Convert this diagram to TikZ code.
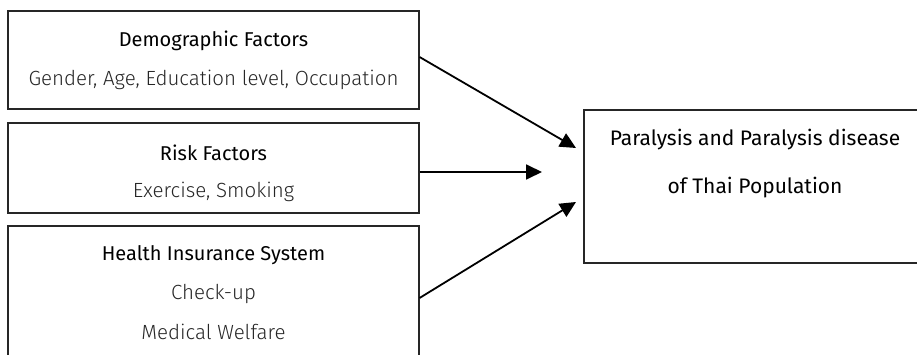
\documentclass[tikz,border=0pt]{standalone}
\usepackage{fontspec}
\setmainfont{Fira Sans}[BoldFont={Fira Sans}, UprightFont={Fira Sans Light}]
\usetikzlibrary{arrows.meta}
\tikzset{
  factorbox/.style={draw=black!85, line width=1.1pt, minimum width=411pt, inner sep=0pt},
  headtext/.style={font=\fontsize{20}{24}\selectfont\bfseries, text=black},
  itemtext/.style={font=\fontsize{20.5}{24}\selectfont, text=black!85},
  outcometext/.style={font=\fontsize{21}{25}\selectfont\bfseries, text=black},
  linkarrow/.style={line width=1.8pt, -{Triangle[length=16pt,width=15pt]}}
}
\begin{document}
\begin{tikzpicture}[x=1pt, y=-1pt]
    \useasboundingbox (0, 0) rectangle (917, 355);
    \clip (0, 0) rectangle (917, 355);

    % Demographic
    \node[factorbox, minimum height=98pt] (demo) at (213.5, 60) {};
    \node[headtext] (demoHead) at (213.5, 41) {Demographic Factors};
    \node[itemtext] (demoItems) at (213.5, 80) {Gender, Age, Education level, Occupation};

    % Risk
    \node[factorbox, minimum height=90pt] (risk) at (213.5, 168) {};
    \node[headtext] (riskHead) at (213.5, 153) {Risk Factors};
    \node[itemtext] (riskItems) at (213.5, 192) {Exercise, Smoking};

    % Health insurance
    \node[factorbox, minimum height=144pt] (health) at (213.5, 298) {};
    \node[headtext] (healthHead) at (213.5, 255) {Health Insurance System};
    \node[itemtext] (healthCheck) at (213.5, 294) {Check-up};
    \node[itemtext] (healthWelfare) at (213.5, 332) {Medical Welfare};

    % Outcome
    \node[factorbox, minimum width=342pt, minimum height=153pt] (outcome) at (755, 186.5) {};
    \node[outcometext] (outcomeTop) at (755, 140) {Paralysis and Paralysis disease};
    \node[outcometext] (outcomeBottom) at (755, 188) {of Thai Population};

    % Connections
    \coordinate (tipDemo) at (576, 148);
    \coordinate (tipRisk) at (542, 172);
    \coordinate (tipHealth) at (576, 202);

    \draw[linkarrow] ([yshift=3pt]demo.east) -- (tipDemo);
    \draw[linkarrow] ([yshift=-4pt]risk.east) -- (tipRisk);
    \draw[linkarrow] (health.east) -- (tipHealth);
\end{tikzpicture}
\end{document}
